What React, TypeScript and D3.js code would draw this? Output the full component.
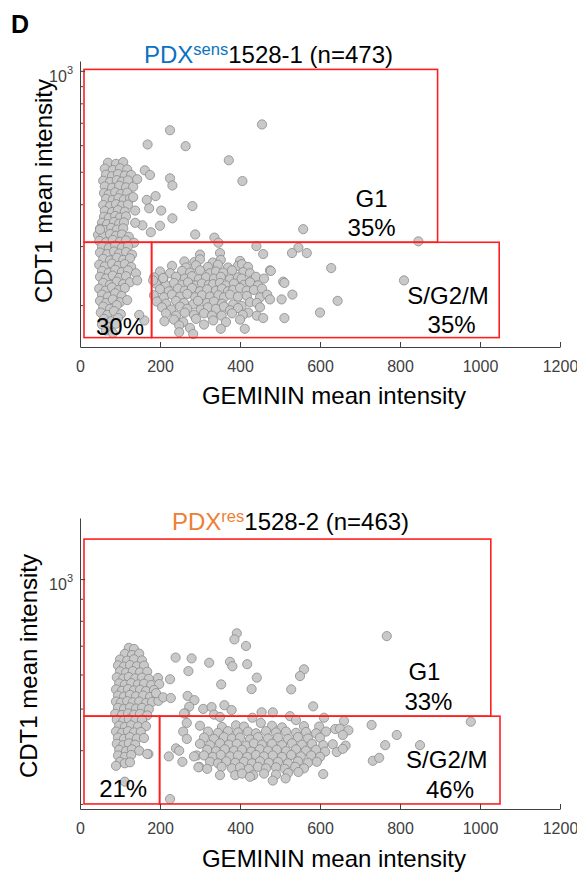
import React, { useRef, useEffect } from 'react';
import * as d3 from 'd3';

type Pt = [number, number];
type Gate = { x0: number; x1: number; y0: number; y1: number };
type Note = { text: string; x: number; y: number };

const FONT = 'Liberation Sans, Arial, Helvetica, sans-serif';

const X_TICKS = [0, 200, 400, 600, 800, 1000, 1200];
const TOP_Y_TICKS = [200, 300, 400, 500, 600, 700, 800, 900, 1000];
const BOTTOM_Y_TICKS = [300, 400, 500, 600, 700, 800, 900, 1000];

// PDX sens 1528-1 : [GEMININ, CDT1]
const TOP_POINTS: Pt[] = [
  // G1 column
  [70,532],[90,528],[108,534],
  [62,511],[82,506],[100,512],[118,508],
  [65,490],[80,485],[95,492],[112,487],[128,489],
  [58,470],[75,466],[92,472],[105,467],[120,471],
  [62,452],[80,448],[98,454],[115,449],[133,451],
  [60,432],[72,428],[88,434],[102,429],[118,433],
  [65,415],[82,412],[96,417],[110,413],[125,416],
  [58,398],[75,395],[90,400],[105,396],[120,399],
  [62,382],[80,379],[95,384],[112,380],[138,383],
  [60,367],[72,364],[88,369],[100,365],[115,368],
  [55,352],[68,349],[85,354],[98,350],[110,353],
  [50,338],[62,335],[78,340],[92,336],[108,339],
  [45,324],[58,321],[75,326],[90,322],[105,325],[122,320],
  [48,311],[65,308],[82,313],[100,309],[115,312],[135,307],
  [55,299],[72,296],[88,301],[105,297],[120,300],
  [50,287],[68,284],[85,289],[98,285],[115,288],[130,283],
  [58,275],[75,272],[92,277],[108,273],[125,276],
  [48,264],[62,261],[80,266],[96,262],[112,265],[128,260],
  [55,253],[72,250],[88,255],[105,251],[120,254],[140,249],
  [50,243],[65,240],[82,245],[98,241],[115,244],
  [58,233],[75,230],[92,235],[108,231],[125,234],
  [48,224],[64,221],[80,226],[97,222],[112,225],
  [55,215],[70,212],[88,217],[104,213],
  [50,206],[65,203],[82,208],[100,204],[118,207],
  [58,198],[75,195],[92,200],
  [52,190],[68,187],[85,192],[102,188],
  [60,182],[78,179],[95,183],
  [55,175],[72,172],[90,176],
  [65,168],[82,165],
  // scattered high
  [455,692],[225,665],[169,603],[264,596],[372,541],[406,469],[162,505],[175,489],
  [143,475],[225,478],[231,455],[189,423],[167,412],[133,420],[281,395],[173,389],
  [203,383],[231,363],[156,346],[200,345],[177,330],[288,325],[336,318],[346,307],
  [138,352],[558,337],[546,297],[567,286],[530,286],[846,310],[441,300],[458,284],
  [50,336],
  // S/G2/M cloud
  [300,283],[350,286],
  [261,270],[286,269],[300,274],[332,268],[352,273],[400,271],
  [230,262],[265,259],[290,263],[320,260],[345,264],[370,259],[395,262],[405,265],[420,260],
  [200,252],[225,249],[255,253],[275,250],[300,254],[325,249],[340,252],[358,250],[380,254],[408,251],[425,249],[475,254],
  [185,242],[208,239],[240,243],[262,240],[280,244],[297,239],[315,242],[335,240],[352,243],[375,239],[395,242],[404,240],[429,237],[440,243],[460,240],
  [190,232],[215,229],[235,233],[255,230],[270,234],[290,229],[305,232],[322,230],[333,231],[350,233],[365,229],[385,232],[410,230],[425,234],[445,229],[508,235],
  [200,223],[222,220],[245,224],[262,221],[280,225],[300,220],[318,223],[340,221],[355,224],[370,220],[383,222],[400,225],[417,221],[435,222],[455,224],[531,215],
  [185,214],[210,211],[230,215],[250,212],[268,216],[288,211],[305,214],[325,212],[346,214],[360,211],[375,215],[395,212],[417,213],[450,211],[468,215],[504,208],
  [192,205],[215,202],[240,206],[260,203],[283,201],[295,206],[318,203],[335,205],[355,202],[383,201],[404,199],[425,204],[442,203],[475,208],
  [205,197],[228,194],[250,198],[268,195],[302,194],[320,197],[340,195],[360,198],[375,193],[395,196],[421,190],[450,197],
  [215,189],[240,186],[262,190],[285,187],[310,189],[330,186],[354,186],[380,189],[407,187],[442,186],
  [211,179],[235,181],[258,178],[290,182],[333,180],[365,178],[400,181],[458,183],[511,183],
  [248,174],[275,171],[310,175],[352,170],[412,170],
  [248,166],[283,164],
  [628,258],[810,237],[644,206],[600,190],[183,237],[208,241],[143,237],[161,180],
  [148,187],[477,253],[511,233],
];

// PDX res 1528-2 : [GEMININ, CDT1]
const BOTTOM_POINTS: Pt[] = [
  // G1 column
  [122,692],[135,688],
  [112,670],[130,666],[148,671],
  [100,650],[118,646],[135,651],[155,647],
  [95,630],[110,626],[125,631],[142,627],[160,629],
  [100,610],[115,606],[132,611],[150,607],[168,609],
  [92,591],[108,587],[122,592],[138,588],[155,590],[172,586],[195,589],
  [98,572],[112,568],[128,573],[145,569],[160,571],[178,567],[198,570],
  [90,554],[105,550],[120,555],[135,551],[150,553],[165,549],[185,552],
  [95,536],[110,533],[125,538],[140,534],[158,536],[175,532],[192,535],
  [90,519],[102,516],[118,520],[132,517],[148,519],[165,515],[180,518],[196,521],
  [95,502],[110,499],[125,503],[140,500],[155,502],[172,498],
  [88,486],[105,483],[120,487],[135,484],[150,486],[168,482],
  [92,471],[108,468],[122,472],[138,469],[155,471],
  [98,456],[112,453],[128,457],[145,454],[165,455],
  [90,442],[105,439],[120,443],[135,440],[152,441],
  [95,428],[110,425],[125,429],[142,426],[160,427],
  [92,414],[108,411],[122,415],[138,412],
  [98,401],[115,398],[130,402],[148,399],[171,392],
  [95,389],[112,386],[128,390],
  [100,376],[112,373],[125,375],
  [90,368],[112,338],
  // scattered high
  [392,748],[386,724],[415,699],[767,737],[239,657],[279,654],[323,639],[375,642],
  [381,627],[418,634],[271,611],[560,617],[550,595],[225,585],[442,590],[353,569],
  [429,555],[528,554],[269,535],[286,523],[273,505],[263,487],[308,499],[329,504],
  [335,484],[350,478],[361,509],[379,496],[583,506],[454,490],[482,490],[525,480],
  [610,476],[190,543],[208,531],[227,529],[260,487],[267,463],[431,476],[452,463],
  [258,442],[267,425],
  // S/G2/M cloud
  [540,470],[660,468],
  [300,456],[355,453],[390,457],[410,454],[480,456],[505,452],[560,455],[598,454],[638,448],[650,449],[671,445],[729,458],
  [320,442],[345,439],[370,443],[395,440],[420,442],[440,438],[465,443],[490,440],[515,442],[540,439],[565,441],[590,438],[615,442],
  [310,428],[335,425],[360,429],[380,426],[400,428],[425,424],[445,429],[470,426],[495,428],[520,425],[545,429],[570,426],[600,428],[657,434],
  [240,404],[300,414],[325,411],[350,415],[372,412],[392,414],[415,410],[435,415],[455,412],[480,414],[505,411],[530,415],[555,412],[580,414],[608,411],[632,413],[792,434],
  [248,399],[292,389],[318,401],[340,398],[362,402],[385,399],[405,401],[428,397],[450,402],[470,399],[492,401],[515,398],[540,402],[565,399],[590,401],[613,397],[642,396],[664,410],[763,411],[850,411],
  [222,387],[285,387],[310,389],[332,386],[352,390],[375,387],[395,389],[418,386],[440,390],[460,387],[482,389],[505,386],[528,390],[552,387],[578,389],[600,386],[657,403],
  [256,376],[298,366],[325,376],[345,373],[366,377],[388,374],[410,376],[430,373],[450,377],[472,374],[495,376],[520,373],[545,377],[570,374],[592,376],[732,378],[748,384],
  [296,365],[318,362],[354,366],[380,363],[400,365],[422,362],[445,366],[465,363],[490,365],[512,362],[538,366],[560,363],
  [350,350],[388,350],[405,353],[433,350],[460,353],[490,351],[520,354],[546,356],[608,352],
  [425,347],[482,340],[514,344],
  [977,466],[225,308],[168,392],
];

const TOP_GATES: Gate[] = [
  { x0: 10, x1: 894, y0: 308, y1: 1010 },
  { x0: 10, x1: 179, y0: 160, y1: 308 },
  { x0: 179, x1: 1048, y0: 160, y1: 308 },
];
const BOTTOM_GATES: Gate[] = [
  { x0: 10, x1: 1027, y0: 480, y1: 1239 },
  { x0: 10, x1: 199, y0: 300, y1: 480 },
  { x0: 199, x1: 1050, y0: 300, y1: 480 },
];

const TOP_NOTES: Note[] = [
  { text: 'G1', x: 729, y: 392 },
  { text: '35%', x: 729, y: 321 },
  { text: 'S/G2/M', x: 920, y: 201 },
  { text: '35%', x: 929, y: 165 },
  { text: '30%', x: 100, y: 163 },
];
const BOTTOM_NOTES: Note[] = [
  { text: 'G1', x: 861, y: 582 },
  { text: '33%', x: 871, y: 496 },
  { text: 'S/G2/M', x: 917, y: 364 },
  { text: '46%', x: 925, y: 310 },
  { text: '21%', x: 108, y: 311 },
];

const panels = [
  {
    points: TOP_POINTS, gates: TOP_GATES, notes: TOP_NOTES, yTicks: TOP_Y_TICKS,
    yDomain: [150, 1070], yRange: [347, 61],
    titleX: 144, titleY: 63, tag: 'sens', tagColor: '#0a72c0', name: '1528-1 (n=473)',
    yLabelX: 52, yLabelY: 191, xLabelY: 404,
  },
  {
    points: BOTTOM_POINTS, gates: BOTTOM_GATES, notes: BOTTOM_NOTES, yTicks: BOTTOM_Y_TICKS,
    yDomain: [292, 1387], yRange: [809, 518],
    titleX: 172, titleY: 530, tag: 'res', tagColor: '#ee8034', name: '1528-2 (n=463)',
    yLabelX: 37, yLabelY: 666, xLabelY: 867,
  },
];

function Panel({ cfg }: { cfg: any }) {
  const ref = useRef<SVGGElement>(null);

  useEffect(() => {
    if (!ref.current) return;
    const g = d3.select(ref.current);
    g.selectAll('*').remove();

    const x = d3.scaleLinear().domain([0, 1200]).range([80, 560]);
    const y = d3.scaleLog().domain(cfg.yDomain).range(cfg.yRange);
    const yBottom = cfg.yRange[0];

    // dots
    g.append('g')
      .selectAll('circle')
      .data(cfg.points as Pt[])
      .join('circle')
      .attr('cx', d => x(d[0]))
      .attr('cy', d => y(d[1]))
      .attr('r', 4.6)
      .attr('fill', '#c9c9c9')
      .attr('stroke', '#8a8a8a')
      .attr('stroke-width', 0.8);

    // gates
    g.append('g')
      .selectAll('rect')
      .data(cfg.gates as Gate[])
      .join('rect')
      .attr('x', d => x(d.x0))
      .attr('y', d => y(d.y1))
      .attr('width', d => x(d.x1) - x(d.x0))
      .attr('height', d => y(d.y0) - y(d.y1))
      .attr('fill', 'none')
      .attr('stroke', '#ff1f1f')
      .attr('stroke-width', 1.6);

    // x axis, ticks pointing in
    const xAxis = d3.axisBottom(x)
      .tickValues(X_TICKS)
      .tickFormat(d => String(d))
      .tickSize(-5)
      .tickSizeOuter(0)
      .tickPadding(13.6);
    const gx = g.append('g')
      .attr('transform', `translate(0,${yBottom})`)
      .attr('color', '#404040')
      .call(xAxis);
    gx.attr('font-family', FONT).attr('font-size', 16);

    // y axis (log), only 10^3 labelled
    const yAxis = d3.axisLeft(y).tickValues(cfg.yTicks).tickSize(-3).tickSizeOuter(0).tickFormat(() => '');
    const gy = g.append('g')
      .attr('transform', 'translate(80,0)')
      .attr('color', '#404040')
      .call(yAxis);
    gy.selectAll('.tick')
      .filter((d: any) => d === 1000)
      .select('line')
      .attr('x2', 5);

    const exp = g.append('text')
      .attr('x', 73)
      .attr('y', y(1000) + 11)
      .attr('text-anchor', 'end')
      .attr('font-family', FONT)
      .attr('font-size', 16)
      .attr('fill', '#404040');
    exp.append('tspan').text('10');
    exp.append('tspan').attr('dy', -8).attr('font-size', 11).text('3');

    // gate annotations
    g.append('g')
      .selectAll('text')
      .data(cfg.notes as Note[])
      .join('text')
      .attr('x', d => x(d.x))
      .attr('y', d => y(d.y))
      .attr('text-anchor', 'middle')
      .attr('font-family', FONT)
      .attr('font-size', 24)
      .attr('fill', '#000')
      .text(d => d.text);

    // title
    const title = g.append('text')
      .attr('x', cfg.titleX)
      .attr('y', cfg.titleY)
      .attr('font-family', FONT)
      .attr('font-size', 24)
      .attr('fill', '#000');
    title.append('tspan').attr('fill', cfg.tagColor).text('PDX');
    title.append('tspan').attr('fill', cfg.tagColor).attr('font-size', 16.5).attr('dy', -8).text(cfg.tag);
    title.append('tspan').attr('dy', 8).text(cfg.name);

    // axis labels
    g.append('text')
      .attr('x', 334)
      .attr('y', cfg.xLabelY)
      .attr('text-anchor', 'middle')
      .attr('font-family', FONT)
      .attr('font-size', 24)
      .attr('fill', '#000')
      .text('GEMININ mean intensity');

    g.append('text')
      .attr('transform', `translate(${cfg.yLabelX},${cfg.yLabelY}) rotate(-90)`)
      .attr('text-anchor', 'middle')
      .attr('font-family', FONT)
      .attr('font-size', 24)
      .attr('fill', '#000')
      .text('CDT1 mean intensity');
  }, [cfg]);

  return <g ref={ref} />;
}

export default function App() {
  return (
    <svg
      width={577}
      height={876}
      style={{ position: 'absolute', left: 0, top: 0, background: '#fff' }}
    >
      <rect width={577} height={876} fill="#fff" />
      <text x={11} y={33} fontFamily={FONT} fontSize={25} fontWeight="bold">D</text>
      {panels.map((p, i) => (
        <Panel key={i} cfg={p} />
      ))}
    </svg>
  );
}
